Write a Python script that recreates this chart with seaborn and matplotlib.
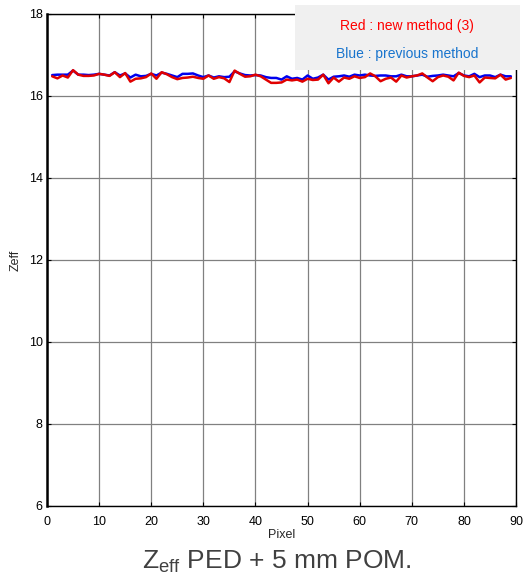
import numpy as np
import pandas as pd
import matplotlib
matplotlib.use("Agg")
import matplotlib.pyplot as plt
import seaborn as sns

pixels = list(range(1, 90))
blue_prev = [16.51, 16.52, 16.52, 16.52, 16.62, 16.52, 16.52, 16.51, 16.52, 16.54,
             16.52, 16.50, 16.58, 16.50, 16.55, 16.45, 16.52, 16.48, 16.49, 16.54,
             16.50, 16.57, 16.54, 16.50, 16.46, 16.54, 16.54, 16.55, 16.50, 16.46,
             16.50, 16.45, 16.48, 16.46, 16.47, 16.60, 16.55, 16.51, 16.50, 16.51,
             16.50, 16.46, 16.44, 16.44, 16.40, 16.48, 16.42, 16.44, 16.40, 16.50,
             16.42, 16.45, 16.52, 16.40, 16.47, 16.48, 16.50, 16.47, 16.52, 16.50,
             16.52, 16.50, 16.49, 16.50, 16.50, 16.48, 16.48, 16.52, 16.48, 16.48,
             16.50, 16.52, 16.47, 16.49, 16.50, 16.52, 16.50, 16.48, 16.56, 16.50,
             16.48, 16.54, 16.46, 16.50, 16.50, 16.46, 16.52, 16.48, 16.48]
red_new = [16.48, 16.43, 16.50, 16.45, 16.63, 16.52, 16.49, 16.49, 16.50, 16.54,
           16.52, 16.49, 16.58, 16.46, 16.56, 16.35, 16.42, 16.43, 16.46, 16.55,
           16.42, 16.58, 16.53, 16.46, 16.41, 16.44, 16.45, 16.47, 16.44, 16.42,
           16.50, 16.42, 16.46, 16.43, 16.34, 16.62, 16.54, 16.47, 16.48, 16.52,
           16.48, 16.40, 16.32, 16.32, 16.33, 16.40, 16.38, 16.40, 16.35, 16.42,
           16.39, 16.40, 16.52, 16.31, 16.45, 16.35, 16.45, 16.42, 16.48, 16.44,
           16.46, 16.55, 16.48, 16.36, 16.42, 16.45, 16.35, 16.50, 16.45, 16.48,
           16.50, 16.55, 16.45, 16.36, 16.46, 16.50, 16.47, 16.38, 16.57, 16.49,
           16.46, 16.50, 16.33, 16.45, 16.44, 16.43, 16.52, 16.40, 16.44]
x_ticks = [0, 10, 20, 30, 40, 50, 60, 70, 80, 90]
y_ticks = [6, 8, 10, 12, 14, 16, 18]

sns.set_theme(style="white")
plt.rcParams['font.family'] = ['Liberation Sans', 'DejaVu Sans']

df = pd.DataFrame({
    "Pixel": pixels * 2,
    "Zeff": blue_prev + red_new,
    "method": ["previous"] * len(pixels) + ["new"] * len(pixels),
})

fig = plt.figure(figsize=(5.25, 5.78), dpi=100)
ax = fig.add_axes([0.0895, 0.1246, 0.8935, 0.8512])

sns.lineplot(data=df, x="Pixel", y="Zeff", hue="method",
             palette={"previous": "#0000ee", "new": "#e00000"},
             linewidth=1.8, legend=False, ax=ax, zorder=3)

ax.set_xlim(0, 90)
ax.set_ylim(6, 18)
ax.set_xticks(x_ticks)
ax.set_yticks(y_ticks)
ax.grid(True, color="#808080", linewidth=0.9, linestyle="-")
for s in ax.spines.values():
    s.set_visible(True)
    s.set_color("black")
    s.set_linewidth(1.0)
ax.spines["left"].set_linewidth(1.8)
ax.tick_params(direction="in", length=3, width=0.8, labelsize=9, colors="black",
               top=True, right=True, bottom=True, left=True, pad=3)
ax.tick_params(axis="x", pad=7)
ax.set_xlabel("Pixel", fontsize=9, labelpad=1)
ax.set_ylabel("Zeff", fontsize=9, labelpad=5)

# annotation box
fig.patches.append(plt.Rectangle((295 / 525, 1 - 70 / 578), 225 / 525, 65 / 578,
                                 transform=fig.transFigure, facecolor="#f0f0f0",
                                 edgecolor="none", zorder=10))
fig.text(407 / 525, 1 - 26 / 578, "Red : new method (3)", color="#ff0000",
         fontsize=10, ha="center", va="center", zorder=11)
fig.text(407 / 525, 1 - 54 / 578, "Blue : previous method", color="#1874cd",
         fontsize=10, ha="center", va="center", zorder=11)

fig.text(277 / 525, 1 - 562 / 578, r"Z$_{\mathregular{eff}}$ PED + 5 mm POM.",
         color="#404040", fontsize=19, ha="center", va="center")

fig.savefig("out.png", dpi=100)
